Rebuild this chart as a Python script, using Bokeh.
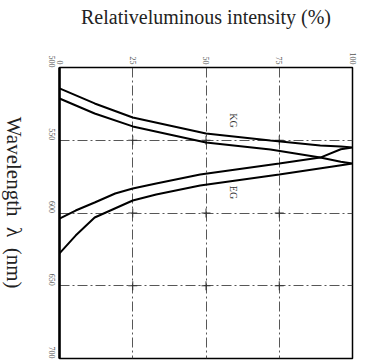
import math
import itertools
from bokeh.plotting import figure
from bokeh.layouts import row
from bokeh.models import Range1d, FixedTicker
from bokeh.core.properties import value
from bokeh.embed import file_html
from bokeh.resources import INLINE

# ---- data ----
intensity_ticks = [0, 25, 50, 75, 100]
wavelength_ticks = [500, 550, 600, 650, 700]

kg_wavelength = [514.4, 524.7, 534.4, 545.4, 550.2, 553.6, 554.3, 555.0, 556.2,
                 561.9, 566.0, 573.5, 579.7, 583.2, 586.6, 592.8, 598.3, 603.8]
kg_intensity = [0, 12, 25, 50, 72, 89, 96, 100, 96,
                89, 75, 48, 33, 25, 19, 12, 5.5, 0]

eg_wavelength = [521.3, 531.6, 540.5, 551.5, 556.4, 561.9, 564.8, 566.0, 567.5,
                 573.5, 581.1, 587.3, 591.4, 603.1, 615.5, 627.8]
eg_intensity = [0, 12, 25, 50, 72, 89, 96, 100, 95,
                75, 48, 33, 25, 12, 5.5, 0]

curve_names = ["KG", "EG"]
name_pos_intensity = [59.4, 59.4]
name_pos_wavelength = [536.4, 585.9]

x_title = "Relativeluminous intensity (%)"
y_title = "Wavelength\u00a0\u00a0λ\u00a0\u00a0(nm)"

SERIF = "Liberation Serif"

# ---- narrow strip holding the rotated wavelength title ----
strip = figure(width=30, height=364, output_backend="svg", toolbar_location=None,
               x_range=Range1d(0, 30), y_range=Range1d(364, 0),
               x_axis_location=None, y_axis_location=None,
               min_border=0, outline_line_color=None)
strip.grid.visible = False
strip.background_fill_color = "white"
strip.border_fill_color = "white"
strip.text(x=[13], y=[169], text=[y_title], angle=-math.pi / 2,
           text_align="center", text_baseline="middle",
           text_font=value(SERIF), text_font_size="21px", text_color="#222222")

# ---- main chart ----
p = figure(width=341, height=364, output_backend="svg", toolbar_location=None,
           x_range=Range1d(0, 100), y_range=Range1d(700, 500),
           x_axis_location="above",
           min_border_left=29, min_border_right=19, min_border_top=67,
           min_border_bottom=6)
p.background_fill_color = "white"
p.border_fill_color = "white"
p.outline_line_color = "black"
p.outline_line_width = 1.5

p.xaxis.ticker = FixedTicker(ticks=intensity_ticks)
p.yaxis.ticker = FixedTicker(ticks=wavelength_ticks)
for ax in (p.xaxis[0], p.yaxis[0]):
    ax.major_tick_in = 0
    ax.major_tick_out = 0
    ax.minor_tick_in = 0
    ax.minor_tick_out = 0
    ax.major_label_text_font = SERIF
    ax.major_label_text_font_size = "8px"
    ax.major_label_text_color = "#555555"
    ax.major_label_orientation = -math.pi / 2
    ax.axis_line_color = "black"
p.xaxis.major_label_standoff = 3
p.yaxis.major_label_standoff = 8
p.xaxis.axis_line_width = 1.2
p.yaxis.axis_line_width = 2.5

p.xaxis.axis_label = x_title
p.xaxis.axis_label_text_font = SERIF
p.xaxis.axis_label_text_font_style = "normal"
p.xaxis.axis_label_text_color = "#222222"
p.xaxis.axis_label_text_font_size = "20px"
p.xaxis.axis_label_standoff = 22

for g in (p.xgrid[0], p.ygrid[0]):
    g.grid_line_color = "#444444"
    g.grid_line_width = 0.9
    g.grid_line_dash = "10 3 2 3"

cross_x = [a for a, b in itertools.product(intensity_ticks[1:-1], wavelength_ticks[1:-1])]
cross_y = [b for a, b in itertools.product(intensity_ticks[1:-1], wavelength_ticks[1:-1])]
p.scatter(x=cross_x, y=cross_y, marker="cross", size=9, line_color="#333333", line_width=1)

p.line(x=kg_intensity, y=kg_wavelength, line_color="black", line_width=2)
p.line(x=eg_intensity, y=eg_wavelength, line_color="black", line_width=2)

p.text(x=name_pos_intensity, y=name_pos_wavelength, text=curve_names,
       angle=-math.pi / 2, text_align="center", text_baseline="middle",
       text_font=value(SERIF), text_font_size="10px", text_color="#333333")

layout = row(strip, p, spacing=0)
open("out.html", "w").write(file_html(layout, INLINE))
